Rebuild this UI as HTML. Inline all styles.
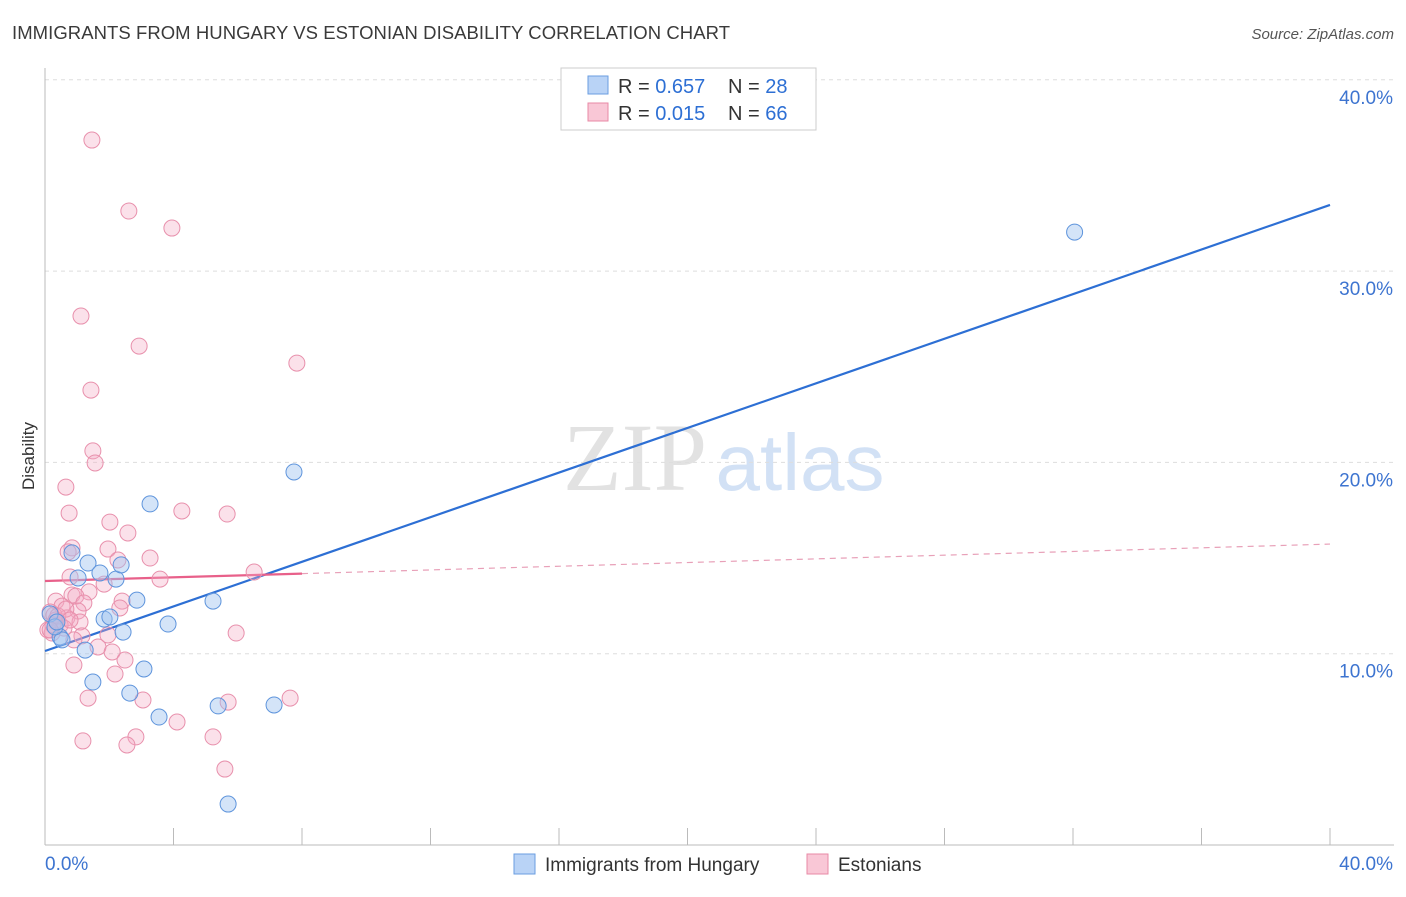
<!DOCTYPE html>
<html><head><meta charset="utf-8"><style>
body{margin:0;background:#fff;font-family:"Liberation Sans",sans-serif;}
</style></head><body>
<svg id="chart" width="1406" height="892" xmlns="http://www.w3.org/2000/svg" font-family="Liberation Sans, sans-serif">
<text x="12" y="39" font-size="18.5" fill="#3a3a3a" textLength="718">IMMIGRANTS FROM HUNGARY VS ESTONIAN DISABILITY CORRELATION CHART</text>
<text x="1394" y="39" font-size="15" fill="#555" font-style="italic" text-anchor="end">Source: ZipAtlas.com</text>
<text transform="translate(34,456) rotate(-90)" font-size="17" fill="#333" text-anchor="middle">Disability</text>
<g font-size="96" text-anchor="middle"><text x="635" y="490" fill="#e2e2e2" font-family="Liberation Serif, serif">ZIP</text><text x="800" y="490" fill="#d2e1f5" font-size="80">atlas</text></g>
<g id="grid"></g><g id="axes"></g><g id="lines"></g><g id="pts"></g>
<g>
<rect x="561" y="68" width="255" height="62" fill="#fff" stroke="#ccc"/>
<rect x="588" y="76" width="20" height="18" fill="#b9d3f6" stroke="#6a9ee0"/>
<rect x="588" y="103" width="20" height="18" fill="#f9c7d6" stroke="#e88aa6"/>
<text x="618" y="93" font-size="20" fill="#333">R = <tspan fill="#2d6fd4">0.657</tspan></text>
<text x="728" y="93" font-size="20" fill="#333">N = <tspan fill="#2d6fd4">28</tspan></text>
<text x="618" y="120" font-size="20" fill="#333">R = <tspan fill="#2d6fd4">0.015</tspan></text>
<text x="728" y="120" font-size="20" fill="#333">N = <tspan fill="#2d6fd4">66</tspan></text>
</g>
<g font-size="19" fill="#333">
<rect x="514" y="854" width="21" height="20" fill="#b9d3f6" stroke="#6a9ee0"/>
<text x="545" y="871">Immigrants from Hungary</text>
<rect x="807" y="854" width="21" height="20" fill="#f9c7d6" stroke="#e88aa6"/>
<text x="838" y="871">Estonians</text>
</g>
</svg>
<script>
const xTicks=[0,40];
const yTicks=[10,20,30,40];
const blueX=[32.05,7.75,3.27,1.34,1.71,2.21,2.37,1.03,0.84,2.86,5.23,3.83,1.84,2.02,2.43,1.25,0.47,0.53,0.16,0.31,0.37,3.08,1.49,2.64,3.55,5.39,7.13,5.70];
const blueY=[32.04,19.50,17.83,14.74,14.22,13.90,14.64,13.96,15.27,12.80,12.75,11.55,11.81,11.92,11.13,10.19,10.87,10.72,12.08,11.40,11.66,9.20,8.52,7.94,6.69,7.27,7.32,2.14];
const pinkX=[1.46,2.61,3.95,1.12,2.93,7.84,1.43,1.49,1.56,0.65,0.75,4.26,5.67,2.02,2.58,0.84,0.72,1.96,2.27,3.27,6.51,0.78,3.58,1.84,1.37,0.84,0.96,0.34,1.21,0.53,2.40,2.33,1.03,0.68,0.16,0.28,1.09,0.47,0.09,0.22,1.96,1.15,0.90,5.95,1.65,2.09,2.49,0.90,2.18,3.05,1.34,5.70,7.63,4.11,5.23,2.83,1.18,2.55,5.60,0.34,0.59,0.40,0.25,0.65,0.16,0.78];
const pinkY=[36.85,33.14,32.25,27.65,26.08,25.19,23.78,20.60,19.97,18.71,17.35,17.46,17.30,16.88,16.31,15.53,15.32,15.47,14.90,15.00,14.27,14.01,13.90,13.64,13.23,13.07,13.01,12.75,12.65,12.49,12.75,12.39,12.23,11.87,12.18,12.02,11.66,11.50,11.24,11.08,10.98,10.93,10.72,11.08,10.35,10.09,9.67,9.41,8.94,7.58,7.68,7.47,7.68,6.43,5.65,5.65,5.44,5.23,3.97,11.76,11.34,11.97,11.50,12.33,11.24,11.76];
const blueFit=[10.14,33.46];
const pinkFit=[13.80,15.73];
const pinkSolidEnd=8;
const X=v=>45+v*32.125, Y=v=>845-v*19.13;
const NS="http://www.w3.org/2000/svg";
function mk(t,a,p){const e=document.createElementNS(NS,t);for(const k in a)e.setAttribute(k,a[k]);p.appendChild(e);return e;}
const grid=document.getElementById('grid'),axes=document.getElementById('axes'),lines=document.getElementById('lines'),pts=document.getElementById('pts');
yTicks.forEach(t=>{
 const g=mk('line',{x1:45,x2:1394,y1:Y(t),y2:Y(t),stroke:'#ddd','stroke-dasharray':'4,4'},grid);
 
 
 const l=mk('text',{x:1393,y:Y(t)+24,'font-size':19,fill:'#3d74d0','text-anchor':'end'},axes);
 l.textContent=t.toFixed(1)+'%';
 
 
});
const ax=mk('line',{x1:45,x2:1394,y1:845,y2:845,stroke:'#bbb'},axes);


const ay=mk('line',{x1:45,x2:45,y1:68,y2:845,stroke:'#bbb'},axes);


for(let i=1;i<=10;i++){const t=mk('line',{x1:X(i*4),x2:X(i*4),y1:828,y2:845,stroke:'#bbb'},axes);
 
 }
xTicks.forEach((t,i)=>{const l=mk('text',{x:i?1393:45,y:870,'font-size':19,fill:'#3d74d0','text-anchor':i?'end':'start'},axes);
 l.textContent=t.toFixed(1)+'%';
 
 });
const fy=(f,x)=>f[0]+(f[1]-f[0])*x/40;
const bl=mk('line',{x1:X(0),y1:Y(fy(blueFit,0)),x2:X(40),y2:Y(fy(blueFit,40)),stroke:'#2d6fd4','stroke-width':2.2},lines);


const pl=mk('line',{x1:X(0),y1:Y(fy(pinkFit,0)),x2:X(pinkSolidEnd),y2:Y(fy(pinkFit,pinkSolidEnd)),stroke:'#e8608a','stroke-width':2.2},lines);


const pd=mk('line',{x1:X(pinkSolidEnd),y1:Y(fy(pinkFit,pinkSolidEnd)),x2:X(40),y2:Y(fy(pinkFit,40)),stroke:'#e8a0b8','stroke-width':1.2,'stroke-dasharray':'6,5'},lines);


pinkX.forEach((x,i)=>{const c=mk('circle',{cx:X(x),cy:Y(pinkY[i]),r:8,fill:'rgba(244,170,195,0.35)',stroke:'#e890ac','stroke-width':1},pts);
 
 });
blueX.forEach((x,i)=>{const c=mk('circle',{cx:X(x),cy:Y(blueY[i]),r:8,fill:'rgba(160,195,240,0.45)',stroke:'#5e94dc','stroke-width':1},pts);
 
 });
</script>
</body></html>
